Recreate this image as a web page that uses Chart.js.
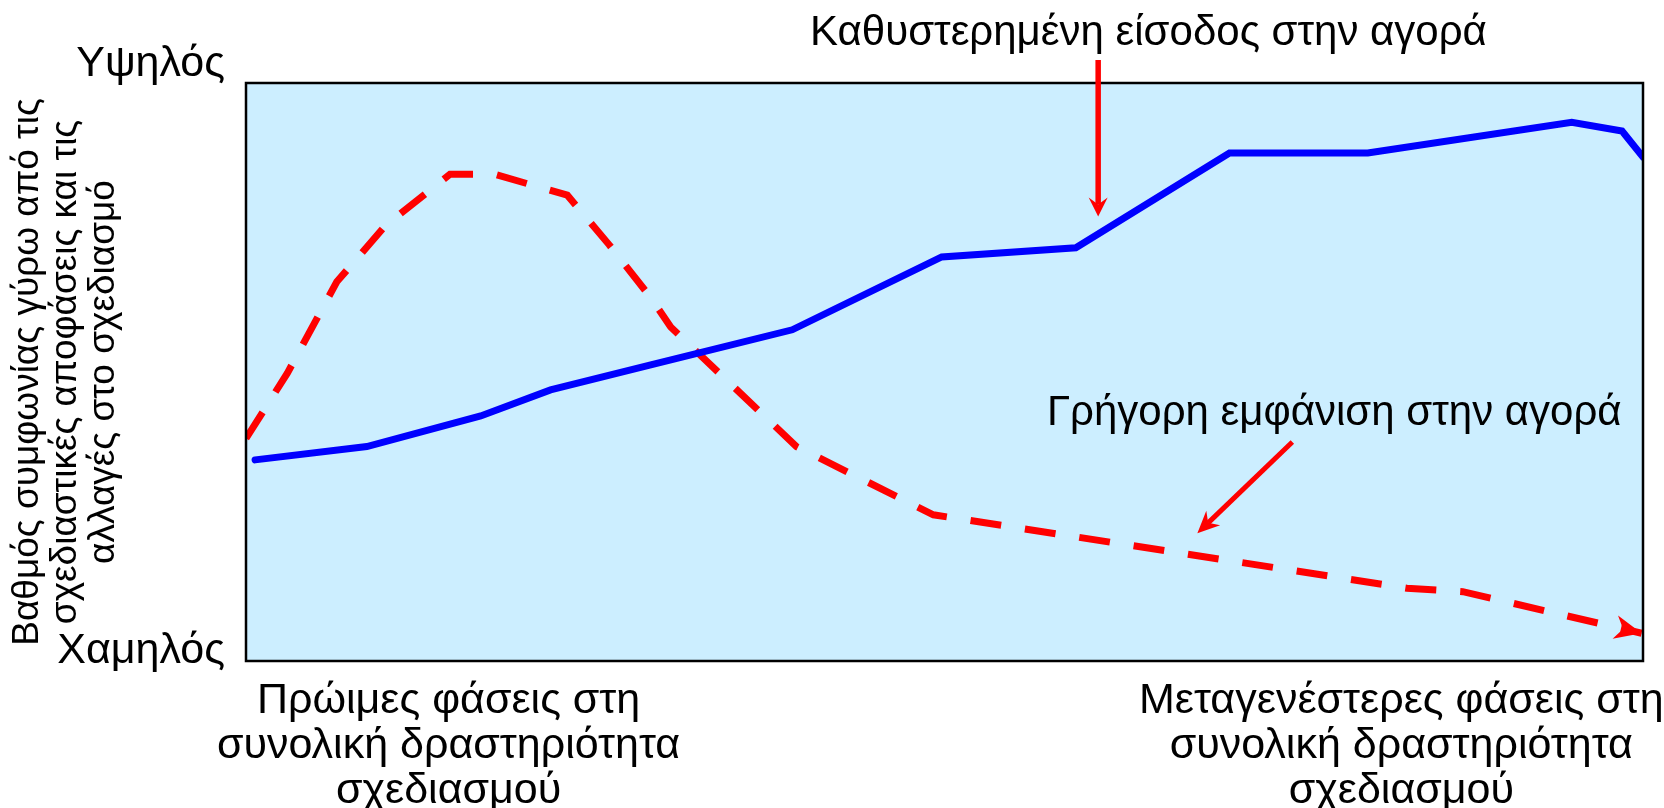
<!DOCTYPE html>
<html lang="el">
<head>
<meta charset="utf-8">
<title>Καθυστερημένη είσοδος στην αγορά</title>
<script src="https://cdn.jsdelivr.net/npm/chart.js@4.4.1/dist/chart.umd.min.js"></script>
<style>
    html, body { margin: 0; padding: 0; background: #ffffff; }
    #wrap { width: 1664px; height: 808px; }
</style>
</head>
<body>
<div id="wrap"><canvas id="designChart"></canvas></div>
<script>
// Blue line: late entry into the market (0 = early phase, 100 = late phase)
const lateEntryX = [0.65, 8.65, 16.8, 21.8, 28.9, 39.1, 49.8, 59.4, 70.4, 80.3, 94.9, 98.5, 100];
const lateEntryY = [34.8, 37.1, 42.4, 46.9, 51.2, 57.3, 69.9, 71.5, 87.9, 87.9, 93.2, 91.7, 87.2];

// Red dashed line: fast appearance in the market
const fastEntryX = [0, 2.96, 6.5, 10.0, 14.6, 17.8, 23.0, 26.0, 29.0, 30.4, 39.4, 49.2, 83.1, 87.1, 99.9];
const fastEntryY = [38.5, 49.8, 65.6, 75.4, 84.2, 84.2, 80.6, 72.0, 62.8, 57.8, 37.1, 25.3, 12.6, 12.0, 4.8];

// Axis labels
const xTickValues = [14.5, 82.7];
const xTickLabels = [
    ['Πρώιμες φάσεις στη', 'συνολική δραστηριότητα', 'σχεδιασμού'],
    ['Μεταγενέστερες φάσεις στη', 'συνολική δραστηριότητα', 'σχεδιασμού']
];
const yTickValues = [1.7, 103.2];
const yTickLabels = ['Χαμηλός', 'Υψηλός'];
const yTitleLines = ['Βαθμός συμφωνίας γύρω από τις', 'σχεδιαστικές αποφάσεις και τις', 'αλλαγές στο σχεδιασμό'];

// Annotations (in data units)
const lateLabel = { text: 'Καθυστερημένη είσοδος στην αγορά', x: 64.6, y: 106.6 };
const lateArrow = { from: [61.0, 104.0], to: [61.0, 76.9] };
const fastLabel = { text: 'Γρήγορη εμφάνιση στην αγορά', x: 77.9, y: 40.8 };
const fastArrow = { from: [74.9, 37.9], to: [68.1, 22.1] };

const FONT = '"Liberation Sans", Arial, sans-serif';

function toPoints(xs, ys) {
    return xs.map((x, i) => ({ x: x, y: ys[i] }));
}

// Filled arrow head with a small notch at the back
function arrowHead(ctx, tipX, tipY, fromX, fromY, len, half, notch) {
    const ang = Math.atan2(tipY - fromY, tipX - fromX);
    const ux = Math.cos(ang), uy = Math.sin(ang);
    const px = -uy, py = ux;
    const bx = tipX - ux * len, by = tipY - uy * len;
    ctx.beginPath();
    ctx.moveTo(tipX, tipY);
    ctx.lineTo(bx + px * half, by + py * half);
    ctx.lineTo(tipX - ux * (len - notch), tipY - uy * (len - notch));
    ctx.lineTo(bx - px * half, by - py * half);
    ctx.closePath();
    ctx.fill();
}

function drawArrow(ctx, x, y, arrow, width, len, half, notch) {
    const x1 = x.getPixelForValue(arrow.from[0]), y1 = y.getPixelForValue(arrow.from[1]);
    const x2 = x.getPixelForValue(arrow.to[0]), y2 = y.getPixelForValue(arrow.to[1]);
    const ang = Math.atan2(y2 - y1, x2 - x1);
    ctx.beginPath();
    ctx.moveTo(x1, y1);
    ctx.lineTo(x2 - Math.cos(ang) * (len - notch), y2 - Math.sin(ang) * (len - notch));
    ctx.lineWidth = width;
    ctx.stroke();
    arrowHead(ctx, x2, y2, x1, y1, len, half, notch);
}

const diagramPlugin = {
    id: 'diagram',
    beforeDatasetsDraw(chart) {
        const { ctx, chartArea: a } = chart;
        ctx.save();
        ctx.fillStyle = '#cceeff';
        ctx.fillRect(a.left, a.top, a.right - a.left, a.bottom - a.top);
        ctx.restore();
    },
    afterDatasetsDraw(chart) {
        const { ctx, chartArea: a } = chart;
        const x = chart.scales.x, y = chart.scales.y;
        ctx.save();

        // arrow head at the end of the dashed line
        const n = fastEntryX.length;
        ctx.fillStyle = '#ff0000';
        arrowHead(ctx,
            x.getPixelForValue(fastEntryX[n - 1]), y.getPixelForValue(fastEntryY[n - 1]),
            x.getPixelForValue(fastEntryX[n - 2]), y.getPixelForValue(fastEntryY[n - 2]),
            27, 12, 8);

        // frame
        ctx.strokeStyle = '#000000';
        ctx.lineWidth = 2.5;
        ctx.strokeRect(a.left, a.top, a.right - a.left, a.bottom - a.top);

        // annotation arrows
        ctx.strokeStyle = '#ff0000';
        ctx.fillStyle = '#ff0000';
        drawArrow(ctx, x, y, lateArrow, 5.5, 19, 9.5, 7);
        drawArrow(ctx, x, y, fastArrow, 5, 22, 10, 7);

        // annotation labels
        ctx.fillStyle = '#000000';
        ctx.font = '42px ' + FONT;
        ctx.textAlign = 'center';
        ctx.textBaseline = 'alphabetic';
        ctx.fillText(lateLabel.text, x.getPixelForValue(lateLabel.x), y.getPixelForValue(lateLabel.y));
        ctx.fillText(fastLabel.text, x.getPixelForValue(fastLabel.x), y.getPixelForValue(fastLabel.y));
        ctx.restore();
    }
};

const ctx = document.getElementById('designChart').getContext('2d');
new Chart(ctx, {
    type: 'line',
    data: {
        datasets: [{
            label: 'Καθυστερημένη είσοδος στην αγορά',
            data: toPoints(lateEntryX, lateEntryY),
            borderColor: '#0000ff',
            borderWidth: 7,
            borderCapStyle: 'round',
            pointRadius: 0,
            tension: 0
        }, {
            label: 'Γρήγορη εμφάνιση στην αγορά',
            data: toPoints(fastEntryX, fastEntryY),
            borderColor: '#ff0000',
            borderWidth: 7,
            borderDash: [31, 24],
            borderCapStyle: 'butt',
            pointRadius: 0,
            tension: 0
        }]
    },
    options: {
        responsive: true,
        maintainAspectRatio: false,
        animation: false,
        events: [],
        layout: {
            padding: { top: 83, right: 21, bottom: 0, left: 0 }
        },
        plugins: {
            legend: { display: false },
            tooltip: { enabled: false }
        },
        scales: {
            x: {
                type: 'linear',
                min: 0,
                max: 100,
                grid: { display: false, drawTicks: false },
                border: { display: false },
                afterFit: scale => {
                    scale.height = 147;
                    // the long right label may overhang the frame, as in the original
                    scale.paddingLeft = 0;
                    scale.paddingRight = 0;
                },
                afterBuildTicks: axis => { axis.ticks = xTickValues.map(v => ({ value: v })); },
                ticks: {
                    autoSkip: false,
                    maxRotation: 0,
                    padding: 18,
                    color: '#000000',
                    font: { family: FONT, size: 43, lineHeight: 45 / 43 },
                    callback: (value, index) => xTickLabels[index]
                }
            },
            y: {
                type: 'linear',
                min: 0,
                max: 100,
                grid: { display: false, drawTicks: false },
                border: { display: false },
                afterFit: scale => {
                    scale.width = 246;
                    scale.paddingTop = 0;
                    scale.paddingBottom = 0;
                },
                afterBuildTicks: axis => { axis.ticks = yTickValues.map(v => ({ value: v })); },
                ticks: {
                    autoSkip: false,
                    padding: 21,
                    color: '#000000',
                    font: { family: FONT, size: 43 },
                    callback: (value, index) => yTickLabels[index]
                },
                title: {
                    display: true,
                    text: yTitleLines,
                    color: '#000000',
                    padding: { top: 9, bottom: 0 },
                    font: { family: FONT, size: 37, lineHeight: 38 / 37 }
                }
            }
        }
    },
    plugins: [diagramPlugin]
});
</script>
</body>
</html>
